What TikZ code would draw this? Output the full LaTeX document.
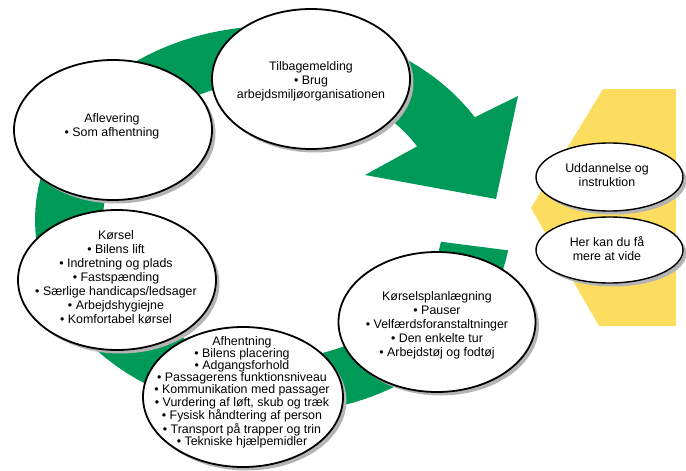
\documentclass[tikz,border=0pt]{standalone}
\usepackage{fontspec}
\setmainfont{Liberation Sans}
\usetikzlibrary{shapes.geometric,shadows}
\definecolor{ringgreen}{RGB}{0,154,88}
\definecolor{bandyellow}{RGB}{253,221,96}
\definecolor{shadegray}{RGB}{180,180,180}
\begin{document}
\begin{tikzpicture}[x=1pt,y=-1pt,
  bubble/.style={ellipse, draw=black, line width=1.8pt, fill=white, inner sep=0pt,
    drop shadow={shadow xshift=3.5pt, shadow yshift=-3.5pt, fill=shadegray, opacity=1}},
  smallbubble/.style={bubble, line width=1.4pt},
  txt/.style={align=center, font=\fontsize{12.4}{14}\selectfont, inner sep=0pt},
  tighttxt/.style={align=center, font=\fontsize{12.4}{12.2}\selectfont, inner sep=0pt}]
\useasboundingbox (0,0) rectangle (686,471);
% yellow band
\fill[bandyellow] (603,89) -- (676,89) -- (676,326) -- (599,326) -- (531,208) -- cycle;
% green ring with arrowhead
\fill[ringgreen] plot[domain=9:328, samples=100] ({273+238*cos(\x)},{220+194*sin(\x)})
  -- (518,96) -- (496,199) -- (365,175)
  -- plot[domain=328:9, samples=100] ({273+170*cos(\x)},{220+139*sin(\x)}) -- cycle;
% ellipses
\node[bubble, minimum width=198pt, minimum height=140pt] (afl) at (113,130) {};
\node[txt] (afltxt) at (112,126) {Aflevering\\• Som afhentning};
\node[bubble, minimum width=198pt, minimum height=140pt] (tilb) at (311,79) {};
\node[txt] (tilbtxt) at (311,81) {Tilbagemelding\\• Brug\\arbejdsmiljøorganisationen};
\node[bubble, minimum width=198pt, minimum height=140pt] (kor) at (117,280) {};
\node[txt] (kortxt) at (116,277) {Kørsel\\• Bilens lift\\• Indretning og plads\\• Fastspænding\\• Særlige handicaps/ledsager\\• Arbejdshygiejne\\• Komfortabel kørsel};
\node[bubble, minimum width=200pt, minimum height=140pt] (afh) at (243,397) {};
\node[tighttxt] (afhtxt) at (242,392) {Afhentning\\• Bilens placering\\• Adgangsforhold\\• Passagerens funktionsniveau\\• Kommunikation med passager\\• Vurdering af løft, skub og træk\\• Fysisk håndtering af person\\• Transport på trapper og trin\\• Tekniske hjælpemidler};
\node[bubble, minimum width=197pt, minimum height=140pt] (plan) at (437,322) {};
\node[txt] (plantxt) at (437,325) {Kørselsplanlægning\\• Pauser\\• Velfærdsforanstaltninger\\• Den enkelte tur\\• Arbejdstøj og fodtøj};
\node[smallbubble, minimum width=147pt, minimum height=68pt] (udd) at (609.5,177) {};
\node[txt] (uddtxt) at (607,175) {Uddannelse og\\instruktion};
\node[smallbubble, minimum width=147pt, minimum height=66pt] (mere) at (609.5,250) {};
\node[txt] (meretxt) at (607,249) {Her kan du få\\mere at vide};
\end{tikzpicture}
\end{document}
